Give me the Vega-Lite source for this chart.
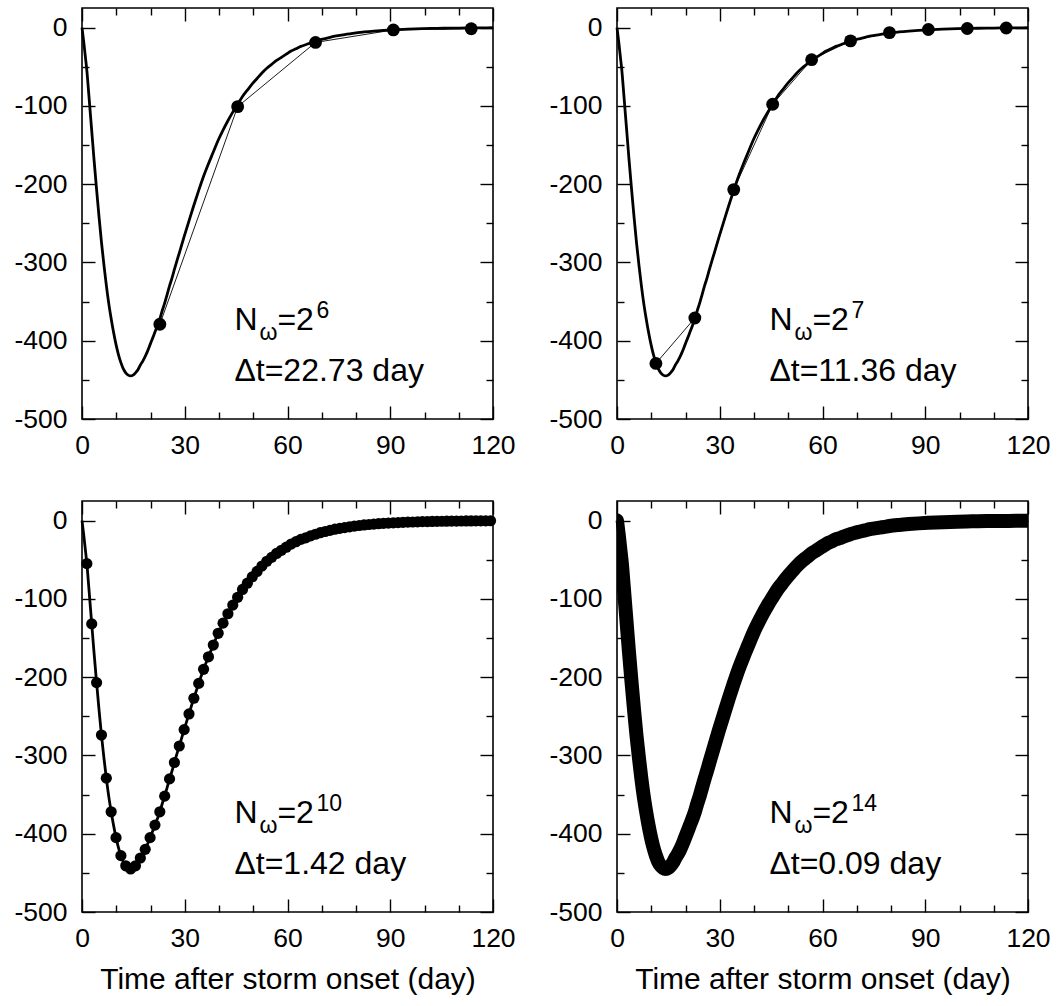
{
"$schema": "https://vega.github.io/schema/vega-lite/v6.json",
"padding": {"left": 13, "top": 6, "right": 5, "bottom": 5},
"autosize": {"type": "pad"},
"background": "white",
"config": {
  "font": "Liberation Sans",
  "view": {"stroke": "black", "strokeWidth": 1.6},
  "axis": {"labelFont": "Liberation Sans", "labelFontSize": 26.5, "labelColor": "black", "tickColor": "black", "tickWidth": 1.4, "titleFont": "Liberation Sans", "titleFontSize": 30, "titleFontWeight": "normal", "titleColor": "black", "domain": false, "grid": false, "labelFlush": false, "labelOverlap": false, "labelBound": false},
  "text": {"font": "Liberation Sans", "color": "black", "align": "left", "baseline": "alphabetic"}
},
"datasets": {
  "truth": [
    {"t":0,"v":0},{"t":0.5,"v":-18},{"t":1,"v":-38},{"t":1.42,"v":-55},{"t":2,"v":-86},{"t":2.84,"v":-132},{"t":3.5,"v":-168},{"t":4.26,"v":-207},{"t":5,"v":-243},{"t":5.68,"v":-274},{"t":6.4,"v":-303},{"t":7.1,"v":-329},{"t":7.8,"v":-352},{"t":8.52,"v":-372},{"t":9.2,"v":-389},{"t":9.94,"v":-405},{"t":10.6,"v":-417},{"t":11.36,"v":-428},{"t":12.07,"v":-436},{"t":12.78,"v":-441},{"t":13.5,"v":-444},{"t":14.2,"v":-445},{"t":14.9,"v":-444},{"t":15.62,"v":-441},{"t":16.33,"v":-437},{"t":17.04,"v":-431},{"t":17.75,"v":-426},{"t":18.46,"v":-420},{"t":19.17,"v":-413},{"t":19.88,"v":-405},{"t":20.6,"v":-397},{"t":21.3,"v":-389},{"t":22.01,"v":-381},{"t":22.73,"v":-372},{"t":23.4,"v":-362},{"t":24.14,"v":-352},{"t":24.85,"v":-341},{"t":25.56,"v":-330},{"t":26.27,"v":-320},{"t":26.98,"v":-309},{"t":28.4,"v":-288},{"t":29.82,"v":-267},{"t":31.24,"v":-247},{"t":32.66,"v":-227},{"t":34.08,"v":-208},{"t":35.5,"v":-190},{"t":36.92,"v":-174},{"t":38.34,"v":-159},{"t":39.76,"v":-144},{"t":41.18,"v":-131},{"t":42.6,"v":-119},{"t":44.02,"v":-108},{"t":45.44,"v":-98},{"t":46.86,"v":-88},{"t":48.28,"v":-80},{"t":49.7,"v":-72},{"t":51.12,"v":-65},{"t":52.54,"v":-58},{"t":53.96,"v":-52},{"t":55.38,"v":-47},{"t":56.8,"v":-42},{"t":58.22,"v":-38},{"t":59.64,"v":-34},{"t":61.06,"v":-30},{"t":62.48,"v":-27},{"t":63.9,"v":-24},{"t":65.32,"v":-22},{"t":66.74,"v":-19.5},{"t":68.16,"v":-17.5},{"t":69.58,"v":-15.5},{"t":71,"v":-14},{"t":72.42,"v":-12.5},{"t":73.84,"v":-11},{"t":75.26,"v":-10},{"t":76.68,"v":-9},{"t":78.1,"v":-8},{"t":79.52,"v":-7},{"t":82.36,"v":-5.6},{"t":85.2,"v":-4.5},{"t":88.04,"v":-3.6},{"t":90.88,"v":-2.9},{"t":95.14,"v":-2},{"t":99.4,"v":-1.4},{"t":103.66,"v":-1},{"t":107.92,"v":-0.7},{"t":112.18,"v":-0.5},{"t":116.44,"v":-0.35},{"t":120,"v":-0.2}
  ],
  "s6": [
    {"t":22.73,"v":-379},{"t":45.45,"v":-101},{"t":68.18,"v":-19},{"t":90.91,"v":-3},{"t":113.64,"v":-1.5}
  ],
  "s7": [
    {"t":11.36,"v":-429},{"t":22.73,"v":-371},{"t":34.09,"v":-207},{"t":45.45,"v":-98},{"t":56.82,"v":-41},{"t":68.18,"v":-17},{"t":79.55,"v":-6.5},{"t":90.91,"v":-2.5},{"t":102.27,"v":-1.2},{"t":113.64,"v":-0.5}
  ],
  "s10": [
    {"t":1.42,"v":-55},{"t":2.84,"v":-132},{"t":4.26,"v":-207},{"t":5.68,"v":-274},{"t":7.1,"v":-329},{"t":8.52,"v":-372},{"t":9.94,"v":-405},{"t":11.36,"v":-428},{"t":12.78,"v":-441},{"t":14.2,"v":-445},{"t":15.62,"v":-441},{"t":17.04,"v":-431},{"t":18.46,"v":-420},{"t":19.88,"v":-405},{"t":21.3,"v":-389},{"t":22.72,"v":-372},{"t":24.14,"v":-352},{"t":25.56,"v":-330},{"t":26.98,"v":-309},{"t":28.4,"v":-288},{"t":29.82,"v":-267},{"t":31.24,"v":-247},{"t":32.66,"v":-227},{"t":34.08,"v":-208},{"t":35.5,"v":-190},{"t":36.92,"v":-174},{"t":38.34,"v":-159},{"t":39.76,"v":-144},{"t":41.18,"v":-131},{"t":42.6,"v":-119},{"t":44.02,"v":-108},{"t":45.44,"v":-98},{"t":46.86,"v":-88},{"t":48.28,"v":-80},{"t":49.7,"v":-72},{"t":51.12,"v":-65},{"t":52.54,"v":-58},{"t":53.96,"v":-52},{"t":55.38,"v":-47},{"t":56.8,"v":-42},{"t":58.22,"v":-38},{"t":59.64,"v":-34},{"t":61.06,"v":-30},{"t":62.48,"v":-27},{"t":63.9,"v":-24},{"t":65.32,"v":-22},{"t":66.74,"v":-19.5},{"t":68.16,"v":-17.5},{"t":69.58,"v":-15.5},{"t":71,"v":-14},{"t":72.42,"v":-12.5},{"t":73.84,"v":-11},{"t":75.26,"v":-10},{"t":76.68,"v":-9},{"t":78.1,"v":-8},{"t":79.52,"v":-7},{"t":80.94,"v":-6.3},{"t":82.36,"v":-5.6},{"t":83.78,"v":-5},{"t":85.2,"v":-4.5},{"t":86.62,"v":-4},{"t":88.04,"v":-3.6},{"t":89.46,"v":-3.2},{"t":90.88,"v":-2.9},{"t":92.3,"v":-2.6},{"t":93.72,"v":-2.3},{"t":95.14,"v":-2},{"t":96.56,"v":-1.8},{"t":97.98,"v":-1.6},{"t":99.4,"v":-1.4},{"t":100.82,"v":-1.3},{"t":102.24,"v":-1.1},{"t":103.66,"v":-1},{"t":105.08,"v":-0.9},{"t":106.5,"v":-0.8},{"t":107.92,"v":-0.7},{"t":109.34,"v":-0.6},{"t":110.76,"v":-0.55},{"t":112.18,"v":-0.5},{"t":113.6,"v":-0.45},{"t":115.02,"v":-0.4},{"t":116.44,"v":-0.35},{"t":117.86,"v":-0.3},{"t":119.28,"v":-0.25}
  ],
  "ann": [
    {"panel":1,"t":44.5,"v1":-386,"v2":-452,"sup":"6","dt":"Δt=22.73 day"},
    {"panel":2,"t":44.5,"v1":-386,"v2":-452,"sup":"7","dt":"Δt=11.36 day"},
    {"panel":3,"t":44.5,"v1":-386,"v2":-452,"sup":"10","dt":"Δt=1.42 day"},
    {"panel":4,"t":44.5,"v1":-386,"v2":-452,"sup":"14","dt":"Δt=0.09 day"}
  ]
},
"columns": 2,
"spacing": {"row": 82, "column": 124},
"bounds": "flush",
"concat": [
  {"width": 411, "height": 411,
   "resolve": {"axis": {"x": "independent", "y": "independent"}},
   "layer": [
    {"data": {"name": "truth"}, "mark": {"type": "line", "color": "black", "strokeWidth": 2.8, "interpolate": "monotone"},
     "encoding": {
      "x": {"field": "t", "type": "quantitative", "scale": {"domain": [0, 120], "nice": false, "zero": false},
            "axis": {"orient": "bottom", "title": null, "values": [0,10,20,30,40,50,60,70,80,90,100,110,120], "labelExpr": "datum.value % 30 === 0 ? '' + datum.value : ''", "tickSize": {"condition": {"test": "datum.value % 30 === 0", "value": -13}, "value": -7}, "labelPadding": 26}},
      "y": {"field": "v", "type": "quantitative", "scale": {"domain": [-500, 25], "nice": false, "zero": false},
            "axis": {"orient": "left", "title": null, "values": [-500,-450,-400,-350,-300,-250,-200,-150,-100,-50,0], "labelExpr": "datum.value % 100 === 0 ? '' + datum.value : ''", "tickSize": {"condition": {"test": "datum.value % 100 === 0", "value": -13}, "value": -7}, "labelPadding": 28}}}},
    {"data": {"name": "s6"}, "mark": {"type": "line", "color": "black", "strokeWidth": 0.9},
     "encoding": {
      "x": {"field": "t", "type": "quantitative", "scale": {"domain": [0, 120], "nice": false, "zero": false},
            "axis": {"orient": "top", "title": null, "labels": false, "values": [0,10,20,30,40,50,60,70,80,90,100,110,120], "tickSize": {"condition": {"test": "datum.value % 30 === 0", "value": -13}, "value": -7}}},
      "y": {"field": "v", "type": "quantitative", "scale": {"domain": [-500, 25], "nice": false, "zero": false},
            "axis": {"orient": "right", "title": null, "labels": false, "values": [-500,-450,-400,-350,-300,-250,-200,-150,-100,-50,0], "tickSize": {"condition": {"test": "datum.value % 100 === 0", "value": -13}, "value": -7}}}}},
    {"data": {"name": "s6"}, "mark": {"type": "circle", "color": "black", "size": 165, "opacity": 1},
     "encoding": {
      "x": {"field": "t", "type": "quantitative", "scale": {"domain": [0, 120], "nice": false, "zero": false}, "axis": null},
      "y": {"field": "v", "type": "quantitative", "scale": {"domain": [-500, 25], "nice": false, "zero": false}, "axis": null}}},
    {"data": {"name": "ann"}, "transform": [{"filter": "datum.panel === 1"}],
     "encoding": {
      "x": {"field": "t", "type": "quantitative", "scale": {"domain": [0, 120], "nice": false, "zero": false}, "axis": null},
      "y": {"field": "v1", "type": "quantitative", "scale": {"domain": [-500, 25], "nice": false, "zero": false}, "axis": null}},
     "layer": [
      {"mark": {"type": "text", "text": "N", "fontSize": 32}},
      {"mark": {"type": "text", "text": "ω", "fontSize": 23, "dx": 25, "dy": 10}},
      {"mark": {"type": "text", "text": "=2", "fontSize": 32, "dx": 43}},
      {"mark": {"type": "text", "fontSize": 23, "dx": 82, "dy": -12}, "encoding": {"text": {"field": "sup"}}},
      {"mark": {"type": "text", "fontSize": 32}, "encoding": {"y": {"field": "v2", "type": "quantitative", "scale": {"domain": [-500, 25], "nice": false, "zero": false}, "axis": null}, "text": {"field": "dt"}}}
     ]}
   ]},
  {"width": 411, "height": 411,
   "resolve": {"axis": {"x": "independent", "y": "independent"}},
   "layer": [
    {"data": {"name": "truth"}, "mark": {"type": "line", "color": "black", "strokeWidth": 2.8, "interpolate": "monotone"},
     "encoding": {
      "x": {"field": "t", "type": "quantitative", "scale": {"domain": [0, 120], "nice": false, "zero": false},
            "axis": {"orient": "bottom", "title": null, "values": [0,10,20,30,40,50,60,70,80,90,100,110,120], "labelExpr": "datum.value % 30 === 0 ? '' + datum.value : ''", "tickSize": {"condition": {"test": "datum.value % 30 === 0", "value": -13}, "value": -7}, "labelPadding": 26}},
      "y": {"field": "v", "type": "quantitative", "scale": {"domain": [-500, 25], "nice": false, "zero": false},
            "axis": {"orient": "left", "title": null, "values": [-500,-450,-400,-350,-300,-250,-200,-150,-100,-50,0], "labelExpr": "datum.value % 100 === 0 ? '' + datum.value : ''", "tickSize": {"condition": {"test": "datum.value % 100 === 0", "value": -13}, "value": -7}, "labelPadding": 28}}}},
    {"data": {"name": "s7"}, "mark": {"type": "line", "color": "black", "strokeWidth": 0.9},
     "encoding": {
      "x": {"field": "t", "type": "quantitative", "scale": {"domain": [0, 120], "nice": false, "zero": false},
            "axis": {"orient": "top", "title": null, "labels": false, "values": [0,10,20,30,40,50,60,70,80,90,100,110,120], "tickSize": {"condition": {"test": "datum.value % 30 === 0", "value": -13}, "value": -7}}},
      "y": {"field": "v", "type": "quantitative", "scale": {"domain": [-500, 25], "nice": false, "zero": false},
            "axis": {"orient": "right", "title": null, "labels": false, "values": [-500,-450,-400,-350,-300,-250,-200,-150,-100,-50,0], "tickSize": {"condition": {"test": "datum.value % 100 === 0", "value": -13}, "value": -7}}}}},
    {"data": {"name": "s7"}, "mark": {"type": "circle", "color": "black", "size": 165, "opacity": 1},
     "encoding": {
      "x": {"field": "t", "type": "quantitative", "scale": {"domain": [0, 120], "nice": false, "zero": false}, "axis": null},
      "y": {"field": "v", "type": "quantitative", "scale": {"domain": [-500, 25], "nice": false, "zero": false}, "axis": null}}},
    {"data": {"name": "ann"}, "transform": [{"filter": "datum.panel === 2"}],
     "encoding": {
      "x": {"field": "t", "type": "quantitative", "scale": {"domain": [0, 120], "nice": false, "zero": false}, "axis": null},
      "y": {"field": "v1", "type": "quantitative", "scale": {"domain": [-500, 25], "nice": false, "zero": false}, "axis": null}},
     "layer": [
      {"mark": {"type": "text", "text": "N", "fontSize": 32}},
      {"mark": {"type": "text", "text": "ω", "fontSize": 23, "dx": 25, "dy": 10}},
      {"mark": {"type": "text", "text": "=2", "fontSize": 32, "dx": 43}},
      {"mark": {"type": "text", "fontSize": 23, "dx": 82, "dy": -12}, "encoding": {"text": {"field": "sup"}}},
      {"mark": {"type": "text", "fontSize": 32}, "encoding": {"y": {"field": "v2", "type": "quantitative", "scale": {"domain": [-500, 25], "nice": false, "zero": false}, "axis": null}, "text": {"field": "dt"}}}
     ]}
   ]},
  {"width": 411, "height": 411,
   "resolve": {"axis": {"x": "independent", "y": "independent"}},
   "layer": [
    {"data": {"name": "truth"}, "mark": {"type": "line", "color": "black", "strokeWidth": 2.8, "interpolate": "monotone"},
     "encoding": {
      "x": {"field": "t", "type": "quantitative", "scale": {"domain": [0, 120], "nice": false, "zero": false},
            "axis": {"orient": "bottom", "title": "Time after storm onset (day)", "titlePadding": 7, "values": [0,10,20,30,40,50,60,70,80,90,100,110,120], "labelExpr": "datum.value % 30 === 0 ? '' + datum.value : ''", "tickSize": {"condition": {"test": "datum.value % 30 === 0", "value": -13}, "value": -7}, "labelPadding": 26}},
      "y": {"field": "v", "type": "quantitative", "scale": {"domain": [-500, 25], "nice": false, "zero": false},
            "axis": {"orient": "left", "title": null, "values": [-500,-450,-400,-350,-300,-250,-200,-150,-100,-50,0], "labelExpr": "datum.value % 100 === 0 ? '' + datum.value : ''", "tickSize": {"condition": {"test": "datum.value % 100 === 0", "value": -13}, "value": -7}, "labelPadding": 28}}}},
    {"data": {"name": "s10"}, "mark": {"type": "line", "color": "black", "strokeWidth": 0.9},
     "encoding": {
      "x": {"field": "t", "type": "quantitative", "scale": {"domain": [0, 120], "nice": false, "zero": false},
            "axis": {"orient": "top", "title": null, "labels": false, "values": [0,10,20,30,40,50,60,70,80,90,100,110,120], "tickSize": {"condition": {"test": "datum.value % 30 === 0", "value": -13}, "value": -7}}},
      "y": {"field": "v", "type": "quantitative", "scale": {"domain": [-500, 25], "nice": false, "zero": false},
            "axis": {"orient": "right", "title": null, "labels": false, "values": [-500,-450,-400,-350,-300,-250,-200,-150,-100,-50,0], "tickSize": {"condition": {"test": "datum.value % 100 === 0", "value": -13}, "value": -7}}}}},
    {"data": {"name": "s10"}, "mark": {"type": "circle", "color": "black", "size": 125, "opacity": 1},
     "encoding": {
      "x": {"field": "t", "type": "quantitative", "scale": {"domain": [0, 120], "nice": false, "zero": false}, "axis": null},
      "y": {"field": "v", "type": "quantitative", "scale": {"domain": [-500, 25], "nice": false, "zero": false}, "axis": null}}},
    {"data": {"name": "ann"}, "transform": [{"filter": "datum.panel === 3"}],
     "encoding": {
      "x": {"field": "t", "type": "quantitative", "scale": {"domain": [0, 120], "nice": false, "zero": false}, "axis": null},
      "y": {"field": "v1", "type": "quantitative", "scale": {"domain": [-500, 25], "nice": false, "zero": false}, "axis": null}},
     "layer": [
      {"mark": {"type": "text", "text": "N", "fontSize": 32}},
      {"mark": {"type": "text", "text": "ω", "fontSize": 23, "dx": 25, "dy": 10}},
      {"mark": {"type": "text", "text": "=2", "fontSize": 32, "dx": 43}},
      {"mark": {"type": "text", "fontSize": 23, "dx": 82, "dy": -12}, "encoding": {"text": {"field": "sup"}}},
      {"mark": {"type": "text", "fontSize": 32}, "encoding": {"y": {"field": "v2", "type": "quantitative", "scale": {"domain": [-500, 25], "nice": false, "zero": false}, "axis": null}, "text": {"field": "dt"}}}
     ]}
   ]},
  {"width": 411, "height": 411,
   "resolve": {"axis": {"x": "independent", "y": "independent"}},
   "layer": [
    {"data": {"name": "truth"}, "mark": {"type": "line", "color": "black", "strokeWidth": 14, "strokeCap": "round", "strokeJoin": "round", "interpolate": "monotone", "clip": true},
     "encoding": {
      "x": {"field": "t", "type": "quantitative", "scale": {"domain": [0, 120], "nice": false, "zero": false},
            "axis": {"orient": "bottom", "title": "Time after storm onset (day)", "titlePadding": 7, "values": [0,10,20,30,40,50,60,70,80,90,100,110,120], "labelExpr": "datum.value % 30 === 0 ? '' + datum.value : ''", "tickSize": {"condition": {"test": "datum.value % 30 === 0", "value": -13}, "value": -7}, "labelPadding": 26}},
      "y": {"field": "v", "type": "quantitative", "scale": {"domain": [-500, 25], "nice": false, "zero": false},
            "axis": {"orient": "left", "title": null, "values": [-500,-450,-400,-350,-300,-250,-200,-150,-100,-50,0], "labelExpr": "datum.value % 100 === 0 ? '' + datum.value : ''", "tickSize": {"condition": {"test": "datum.value % 100 === 0", "value": -13}, "value": -7}, "labelPadding": 28}}}},
    {"data": {"name": "truth"}, "mark": {"type": "line", "color": "black", "strokeWidth": 2.8, "interpolate": "monotone"},
     "encoding": {
      "x": {"field": "t", "type": "quantitative", "scale": {"domain": [0, 120], "nice": false, "zero": false},
            "axis": {"orient": "top", "title": null, "labels": false, "values": [0,10,20,30,40,50,60,70,80,90,100,110,120], "tickSize": {"condition": {"test": "datum.value % 30 === 0", "value": -13}, "value": -7}}},
      "y": {"field": "v", "type": "quantitative", "scale": {"domain": [-500, 25], "nice": false, "zero": false},
            "axis": {"orient": "right", "title": null, "labels": false, "values": [-500,-450,-400,-350,-300,-250,-200,-150,-100,-50,0], "tickSize": {"condition": {"test": "datum.value % 100 === 0", "value": -13}, "value": -7}}}}},
    {"data": {"name": "ann"}, "transform": [{"filter": "datum.panel === 4"}],
     "encoding": {
      "x": {"field": "t", "type": "quantitative", "scale": {"domain": [0, 120], "nice": false, "zero": false}, "axis": null},
      "y": {"field": "v1", "type": "quantitative", "scale": {"domain": [-500, 25], "nice": false, "zero": false}, "axis": null}},
     "layer": [
      {"mark": {"type": "text", "text": "N", "fontSize": 32}},
      {"mark": {"type": "text", "text": "ω", "fontSize": 23, "dx": 25, "dy": 10}},
      {"mark": {"type": "text", "text": "=2", "fontSize": 32, "dx": 43}},
      {"mark": {"type": "text", "fontSize": 23, "dx": 82, "dy": -12}, "encoding": {"text": {"field": "sup"}}},
      {"mark": {"type": "text", "fontSize": 32}, "encoding": {"y": {"field": "v2", "type": "quantitative", "scale": {"domain": [-500, 25], "nice": false, "zero": false}, "axis": null}, "text": {"field": "dt"}}}
     ]}
   ]}
]
}
